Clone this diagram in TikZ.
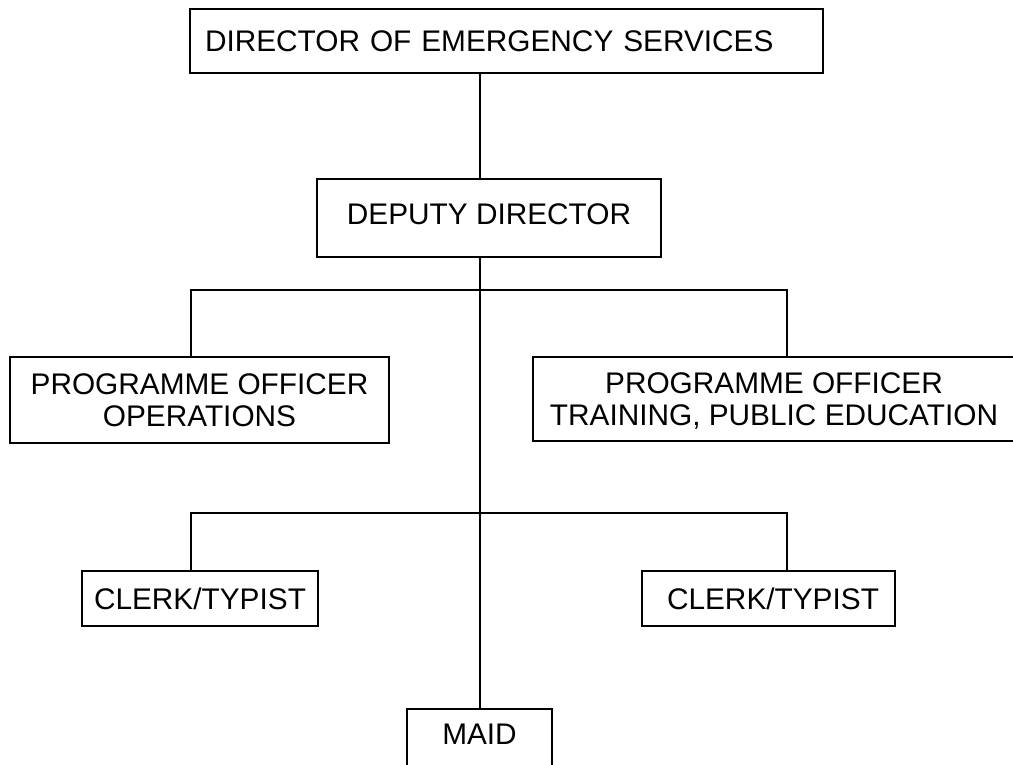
\documentclass[tikz,border=0pt]{standalone}
\usepackage{fontspec}
\setmainfont{Liberation Sans}
\begin{document}
\begin{tikzpicture}[x=1pt,y=-1pt,
  box/.style={draw=black, line width=1.6pt, fill=white, inner sep=0pt, align=center,
    font=\fontsize{29.8}{32}\selectfont},
  wire/.style={draw=black, line width=1.6pt}]
\useasboundingbox (0,0) rectangle (1013,765);
\fill[white] (0,0) rectangle (1013,765);
% boxes
\node[box, minimum width=633pt, minimum height=64pt, text width=603pt, align=left] (dir) at (506.5,41) {DIRECTOR OF EMERGENCY SERVICES};
\node[box, minimum width=344pt, minimum height=78pt, text depth=8pt] (dep) at (489,218) {DEPUTY DIRECTOR};
\node[box, minimum width=379pt, minimum height=86pt, text depth=-8pt] (po1) at (199.5,400) {PROGRAMME OFFICER\\OPERATIONS};
\node[box, minimum width=482pt, minimum height=84pt, text depth=-4pt] (po2) at (774,399) {PROGRAMME OFFICER\\TRAINING, PUBLIC EDUCATION};
\node[box, minimum width=236pt, minimum height=55pt] (cl1) at (200,598.5) {CLERK/TYPIST};
\node[box, minimum width=253pt, minimum height=55pt] (cl2) at (768.5,598.5) {\hspace*{9pt}CLERK/TYPIST};
\node[box, minimum width=145pt, minimum height=62pt, text depth=12pt] (maid) at (479.5,740) {MAID};
% connector guides
\coordinate (sp) at (480,0);
\coordinate (xl) at (191,0);
\coordinate (xr) at (787,0);
\coordinate (j1) at (480,290);
\coordinate (j2) at (480,513);
% connectors
\draw[wire] (dir.south -| sp) -- (dep.north -| sp);
\draw[wire] (dep.south -| sp) -- (maid.north -| sp);
\draw[wire] (po1.north -| xl) -- (xl |- j1) -- (xr |- j1) -- (po2.north -| xr);
\draw[wire] (cl1.north -| xl) -- (xl |- j2) -- (xr |- j2) -- (cl2.north -| xr);
\end{tikzpicture}
\end{document}
